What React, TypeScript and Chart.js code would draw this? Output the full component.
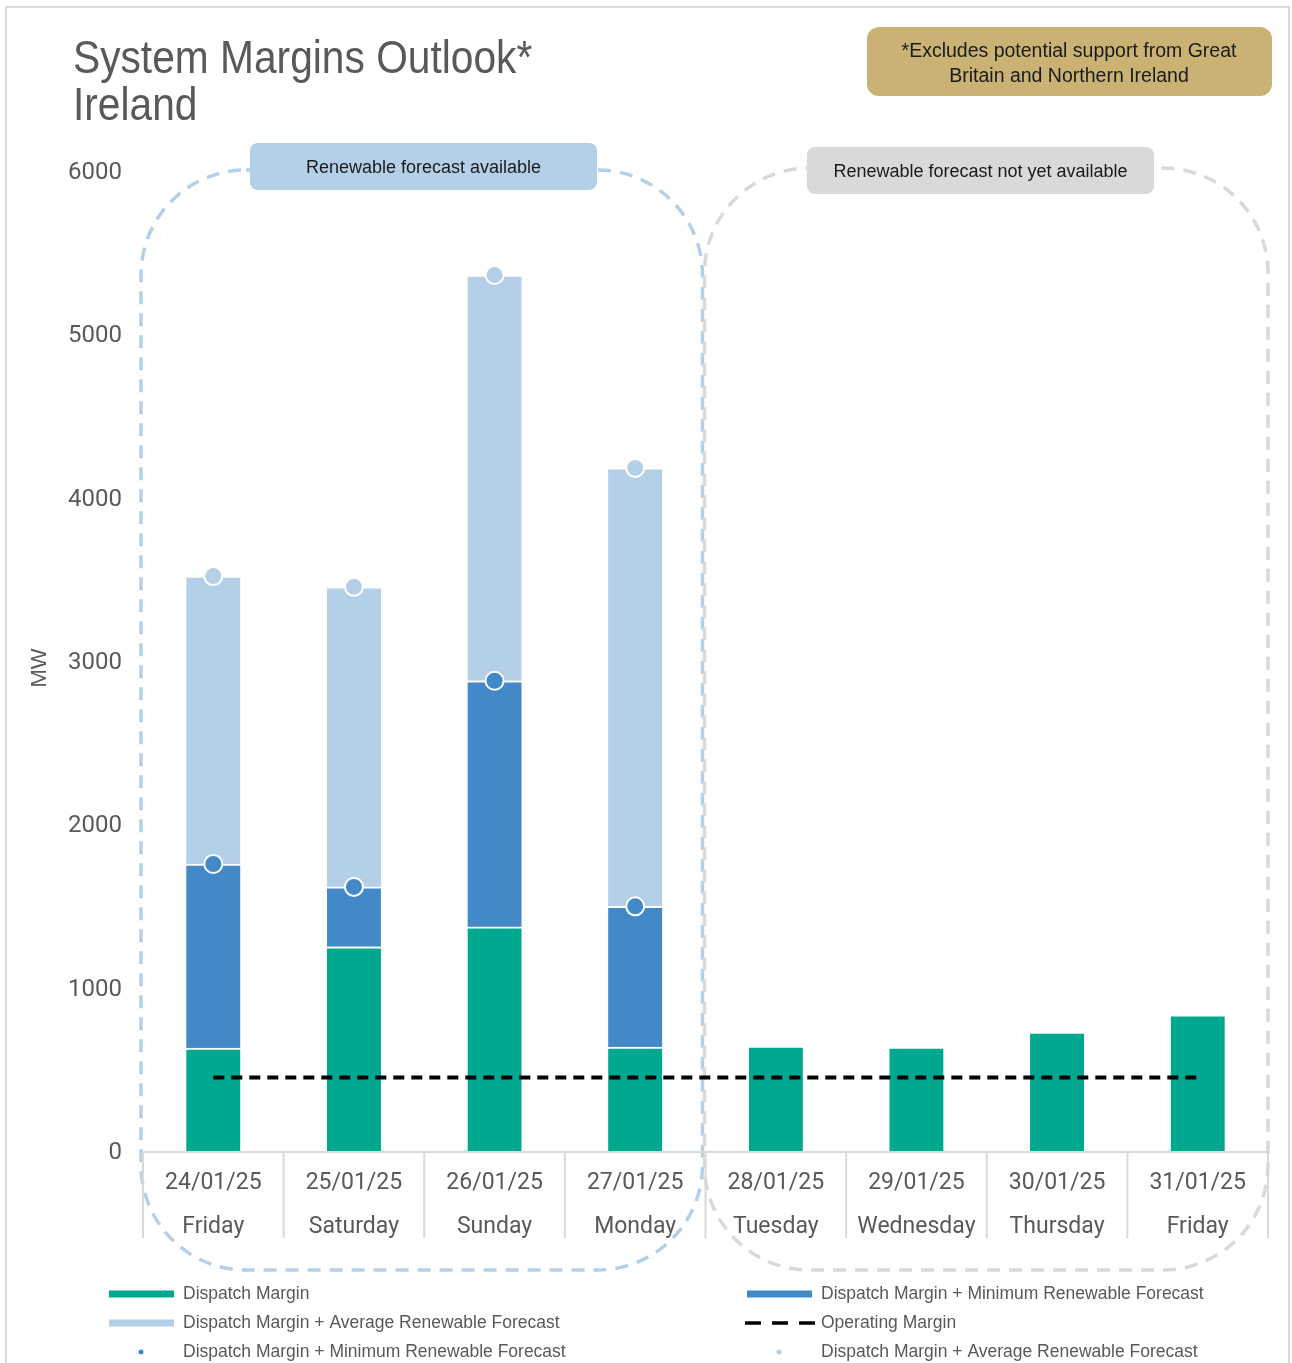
import React, { useEffect, useRef } from 'react';
import { Chart, registerables } from 'chart.js';

Chart.register(...registerables);

// ---------- data ----------
const dates = ['24/01/25', '25/01/25', '26/01/25', '27/01/25', '28/01/25', '29/01/25', '30/01/25', '31/01/25'];
const days = ['Friday', 'Saturday', 'Sunday', 'Monday', 'Tuesday', 'Wednesday', 'Thursday', 'Friday'];
const dispatchMargin = [630, 1250, 1372, 636, 643, 637, 728, 834];
const dmPlusMinRenewable = [1757, 1617, 2879, 1498, null, null, null, null];
const dmPlusAvgRenewable = [3520, 3454, 5363, 4182, null, null, null, null];
const operatingMargin = [450, 450, 450, 450, 450, 450, 450, 450];
const yMin = 0;
const yMax = 6000;
const yStep = 1000;

const titleLines = ['System Margins Outlook*', 'Ireland'];
const noteLines = ['*Excludes potential support from Great', 'Britain and Northern Ireland'];
const groupLabels = ['Renewable forecast available', 'Renewable forecast not yet available'];
const groupSizes = [4, 4];
const yTitle = 'MW';
const seriesNames = [
  'Dispatch Margin',
  'Dispatch Margin + Minimum Renewable Forecast',
  'Dispatch Margin + Average Renewable Forecast',
  'Operating Margin',
  'Dispatch Margin + Minimum Renewable Forecast',
  'Dispatch Margin + Average Renewable Forecast',
];

// ---------- styles ----------
const GREEN = '#00a88f';
const BLUE = '#4389c8';
const LIGHT = '#b4d0e8';
const GREY = '#d9d9d9';
const GOLD = '#c9b274';
const TEXT = '#595959';
const DARK = '#1a1a1a';
const FONT_BODY = "'Liberation Sans', Arial, sans-serif";
const FONT_TICK = "Roboto, 'Liberation Sans', sans-serif";

const W = 1292;
const H = 1363;

const minIncrement = dmPlusMinRenewable.map((v, i) => (v == null ? null : v - dispatchMargin[i]));
const avgIncrement = dmPlusAvgRenewable.map((v, i) =>
  v == null || dmPlusMinRenewable[i] == null ? null : v - (dmPlusMinRenewable[i] as number)
);

const decorPlugin = {
  id: 'decor',
  beforeDraw(chart: any) {
    const ctx = chart.ctx;
    ctx.save();
    ctx.fillStyle = '#fff';
    ctx.fillRect(0, 0, W, H);
    // outer frame
    ctx.strokeStyle = GREY;
    ctx.lineWidth = 2;
    ctx.beginPath();
    ctx.moveTo(6, H + 5);
    ctx.lineTo(6, 7);
    ctx.lineTo(1289, 7);
    ctx.lineTo(1289, H + 5);
    ctx.stroke();
    // title (horizontally condensed)
    ctx.save();
    ctx.translate(73, 0);
    ctx.scale(0.885, 1);
    ctx.fillStyle = TEXT;
    ctx.font = `46px ${FONT_BODY}`;
    ctx.textAlign = 'left';
    ctx.textBaseline = 'alphabetic';
    ctx.fillText(titleLines[0], 0, 73);
    ctx.fillText(titleLines[1], 0, 120);
    ctx.restore();
    // note box
    ctx.fillStyle = GOLD;
    ctx.beginPath();
    ctx.roundRect(867, 27, 405, 69, 12);
    ctx.fill();
    ctx.fillStyle = DARK;
    ctx.font = `19.5px ${FONT_BODY}`;
    ctx.textAlign = 'center';
    ctx.textBaseline = 'middle';
    ctx.fillText(noteLines[0], 1069, 52);
    ctx.fillText(noteLines[1], 1069, 77);
    // y title
    ctx.save();
    ctx.translate(40, 668);
    ctx.rotate(-Math.PI / 2);
    ctx.fillStyle = TEXT;
    ctx.font = `22px ${FONT_BODY}`;
    ctx.fillText(yTitle, 0, 0);
    ctx.restore();
    ctx.restore();
  },
  beforeDatasetsDraw(chart: any) {
    const ctx = chart.ctx;
    const x = chart.scales.x;
    const area = chart.chartArea;
    const half = (x.getPixelForValue(1) - x.getPixelForValue(0)) / 2;
    const boundary = x.getPixelForValue(groupSizes[0] - 1) + half;
    const boxes = [
      { l: area.left - 2, r: boundary - 3, t: area.top - 1, color: LIGHT, label: groupLabels[0], pill: [250, 143, 347, 47] },
      { l: boundary - 1, r: area.right, t: area.top - 3, color: GREY, label: groupLabels[1], pill: [807, 147, 347, 47] },
    ];
    ctx.save();
    for (const b of boxes) {
      ctx.strokeStyle = b.color;
      ctx.lineWidth = 3.5;
      ctx.setLineDash([13, 9]);
      ctx.beginPath();
      ctx.roundRect(b.l, b.t, b.r - b.l, 1270 - b.t, 105);
      ctx.stroke();
    }
    ctx.setLineDash([]);
    for (const b of boxes) {
      ctx.fillStyle = b.color;
      ctx.beginPath();
      ctx.roundRect(b.pill[0], b.pill[1], b.pill[2], b.pill[3], 8);
      ctx.fill();
      ctx.fillStyle = DARK;
      ctx.font = `18px ${FONT_BODY}`;
      ctx.textAlign = 'center';
      ctx.textBaseline = 'middle';
      ctx.fillText(b.label, b.pill[0] + b.pill[2] / 2, b.pill[1] + b.pill[3] / 2 + 2);
    }
    ctx.restore();
  },
  afterDatasetsDraw(chart: any) {
    const ctx = chart.ctx;
    const x = chart.scales.x;
    const area = chart.chartArea;
    const half = (x.getPixelForValue(1) - x.getPixelForValue(0)) / 2;
    ctx.save();
    ctx.strokeStyle = GREY;
    ctx.lineWidth = 2;
    ctx.beginPath();
    ctx.moveTo(area.left, area.bottom + 1);
    ctx.lineTo(area.right, area.bottom + 1);
    for (let i = 0; i <= dates.length; i++) {
      const px = i < dates.length ? x.getPixelForValue(i) - half : x.getPixelForValue(dates.length - 1) + half;
      ctx.moveTo(px, area.bottom);
      ctx.lineTo(px, area.bottom + 87);
    }
    ctx.stroke();
    ctx.restore();
  },
  afterDraw(chart: any) {
    const ctx = chart.ctx;
    const ds = chart.data.datasets;
    const colX = [109, 747];
    const rowY = [1294, 1323, 1352];
    ctx.save();
    ds.forEach((d: any, i: number) => {
      const cx = colX[i % 2];
      const cy = rowY[Math.floor(i / 2)];
      const kind = d.legendKind;
      if (kind === 'bar') {
        ctx.fillStyle = d.backgroundColor;
        ctx.fillRect(cx, cy - 3.5, 65, 7);
      } else if (kind === 'dash') {
        ctx.strokeStyle = d.borderColor;
        ctx.lineWidth = 3.5;
        ctx.setLineDash([16, 11]);
        ctx.beginPath();
        ctx.moveTo(cx - 2, cy);
        ctx.lineTo(cx + 68, cy);
        ctx.stroke();
        ctx.setLineDash([]);
      } else {
        ctx.fillStyle = d.pointBackgroundColor;
        ctx.beginPath();
        ctx.arc(cx + 32, cy, 2.5, 0, Math.PI * 2);
        ctx.fill();
      }
      ctx.fillStyle = TEXT;
      ctx.font = `17.5px ${FONT_BODY}`;
      ctx.textAlign = 'left';
      ctx.textBaseline = 'middle';
      ctx.fillText(d.label, cx + 74, cy);
    });
    ctx.restore();
  },
};

export default function App() {
  const ref = useRef<HTMLCanvasElement | null>(null);

  useEffect(() => {
    if (!ref.current) return;
    const barBorder = { top: 2, right: 0, bottom: 0, left: 0 };
    const barCommon = {
      type: 'bar',
      borderColor: '#fff',
      borderWidth: barBorder,
      borderSkipped: false,
      stack: 'bars',
      order: 2,
      barThickness: 54,
      legendKind: 'bar',
    };
    const pointCommon = {
      type: 'line',
      showLine: false,
      pointRadius: 9,
      pointBorderColor: '#fff',
      pointBorderWidth: 2,
      order: 0,
      legendKind: 'dot',
    };
    const chart = new Chart(ref.current, {
      type: 'bar',
      data: {
        labels: dates.map((d, i) => [d, days[i]]),
        datasets: [
          { ...barCommon, label: seriesNames[0], data: dispatchMargin, backgroundColor: GREEN } as any,
          { ...barCommon, label: seriesNames[1], data: minIncrement, backgroundColor: BLUE } as any,
          { ...barCommon, label: seriesNames[2], data: avgIncrement, backgroundColor: LIGHT } as any,
          {
            type: 'line',
            label: seriesNames[3],
            data: operatingMargin,
            borderColor: '#000',
            backgroundColor: '#000',
            borderWidth: 3.8,
            borderDash: [11, 7],
            pointRadius: 0,
            fill: false,
            stack: 'op',
            order: 1,
            legendKind: 'dash',
          } as any,
          {
            ...pointCommon,
            label: seriesNames[4],
            data: dmPlusMinRenewable,
            pointBackgroundColor: BLUE,
            backgroundColor: BLUE,
            stack: 'minPts',
          } as any,
          {
            ...pointCommon,
            label: seriesNames[5],
            data: dmPlusAvgRenewable,
            pointBackgroundColor: LIGHT,
            backgroundColor: LIGHT,
            stack: 'avgPts',
          } as any,
        ],
      },
      options: {
        animation: false,
        responsive: false,
        events: [],
        layout: { padding: { left: 0, right: 24, top: 171, bottom: 112 } },
        plugins: {
          legend: { display: false },
          tooltip: { enabled: false },
          title: { display: false },
        },
        scales: {
          x: {
            stacked: true,
            grid: { display: false, drawTicks: false },
            border: { display: false },
            ticks: {
              color: TEXT,
              font: { family: FONT_TICK, size: 23, lineHeight: 44 / 23 },
              padding: 10,
              maxRotation: 0,
              autoSkip: false,
            },
            afterFit: (s: any) => {
              s.height = 100;
            },
          },
          y: {
            stacked: true,
            min: yMin,
            max: yMax,
            grid: { display: false, drawTicks: false },
            border: { display: false },
            ticks: {
              stepSize: yStep,
              color: TEXT,
              font: { family: FONT_TICK, size: 24 },
              padding: 21,
              labelOffset: 2,
              callback: (v: any) => String(v),
            },
            afterFit: (s: any) => {
              s.width = 143;
            },
          },
        },
      },
      plugins: [decorPlugin],
    });
    return () => chart.destroy();
  }, []);

  return (
    <div style={{ position: 'absolute', left: 0, top: 0, width: W, height: H, background: '#fff' }}>
      <canvas ref={ref} width={W} height={H} style={{ display: 'block' }} />
    </div>
  );
}
